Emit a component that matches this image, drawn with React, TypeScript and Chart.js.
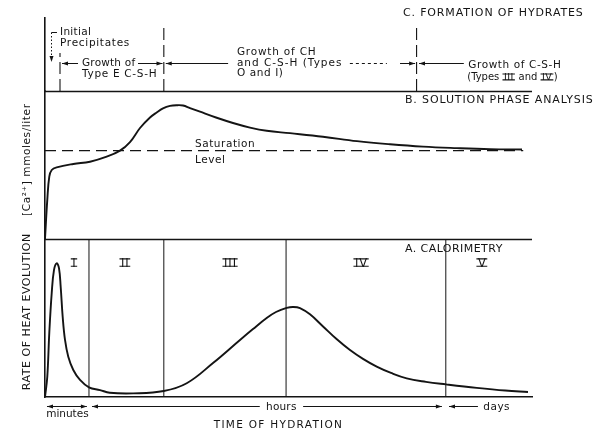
import { useEffect, useRef } from 'react';
import { Chart, registerables } from 'chart.js';

Chart.register(...registerables);

const INK = '#141414';
const FONT = '"DejaVu Sans"';

// Time of hydration on a relative 0–100 scale across the plot
// A. Calorimetry: rate of heat evolution (relative units)
const heatTime = [0, 0.47, 0.88, 1.38, 1.85, 2.4, 2.87, 3.22, 3.63, 4.11, 4.78, 5.81, 7.19, 9.03, 11.3, 13.3, 18.1, 24.4, 29.1, 34.5, 40.04, 42.71, 45.52, 47.43, 49.63, 50.92, 52.36, 54.41, 57.15, 59.75, 62.63, 65.3, 68.11, 71.05, 74.27, 78.23, 82.34, 88.65, 94.5, 99.18];
const heatRate = [0, 12.8, 40.5, 65.8, 80.4, 84.6, 81.6, 69.8, 50.8, 36.1, 25.5, 17.1, 10.8, 6.1, 4.4, 2.7, 2.3, 3.8, 8.7, 21.5, 36.1, 43.0, 50.0, 53.8, 56.4, 57.0, 56.3, 52.3, 44.5, 37.0, 29.7, 24.1, 19.2, 15.2, 11.8, 9.6, 8.0, 5.8, 4.1, 3.2];

// B. Solution phase: Ca2+ concentration (relative units)
const caTime = [0, 0.47, 0.88, 1.38, 2.4, 5.81, 9.24, 12.67, 15.4, 17.45, 19.51, 21.56, 22.94, 24.23, 25.67, 27.04, 28.34, 29.77, 31.83, 35.11, 38.6, 42.09, 45.52, 50.31, 57.08, 64.07, 70.84, 77.62, 84.6, 91.38, 97.95];
const caConc = [0, 26.4, 42.1, 46.6, 48.4, 50.7, 52.2, 55.6, 59.7, 65.5, 75.0, 82.1, 85.5, 88.2, 89.9, 90.4, 90.2, 88.5, 86.0, 82.1, 78.4, 75.3, 73.1, 71.5, 69.1, 66.1, 64.0, 62.4, 61.4, 60.7, 60.5];
const saturationLevel = 59.7;
const saturationEnd = 98.2;

// Calorimetric stages I–V and their boundaries
const stageBounds = [9.03, 24.4, 49.5, 82.3];
const stageNames = ['I', 'II', 'III', 'IV', 'V'];
const stageNameX = [5.95, 16.4, 38.0, 64.9, 89.7];

// C. Formation of hydrates: period boundaries and how high each dashed line reaches
const hydrateBounds = [3.08, 24.4, 76.3];
const hydrateBoundTops = [52, 87.7, 87.7];

type Axis = 'yA' | 'yB' | 'yC';
type Note = { text: string; x: number; y: number; axis: Axis; size: number; spacing: number; align?: CanvasTextAlign };
type Arrow = { x1: number; x2: number; y: number; axis: Axis; head: 'start' | 'end' | 'both' | 'none'; dash?: number[] };

const notes: Note[] = [
  { text: 'C. FORMATION OF HYDRATES', x: 73.5, y: 107, axis: 'yC', size: 11, spacing: 0.85 },
  { text: 'B. SOLUTION PHASE ANALYSIS', x: 73.9, y: 93.9, axis: 'yB', size: 11, spacing: 0.88 },
  { text: 'A. CALORIMETRY', x: 73.9, y: 93.7, axis: 'yA', size: 11, spacing: 0.45 },
  { text: 'Initial', x: 3.08, y: 80.8, axis: 'yC', size: 10.5, spacing: 0.3 },
  { text: 'Precipitates', x: 3.08, y: 65.8, axis: 'yC', size: 10.5, spacing: 0.7 },
  { text: 'Growth of', x: 7.6, y: 38.4, axis: 'yC', size: 10.5, spacing: 0.2 },
  { text: 'Type E C-S-H', x: 7.6, y: 23.3, axis: 'yC', size: 10.5, spacing: 0.7 },
  { text: 'Growth of CH', x: 39.4, y: 53.4, axis: 'yC', size: 10.5, spacing: 0.8 },
  { text: 'and C-S-H (Types', x: 39.4, y: 38.4, axis: 'yC', size: 10.5, spacing: 1.0 },
  { text: 'O and I)', x: 39.4, y: 24.7, axis: 'yC', size: 10.5, spacing: 0.6 },
  { text: 'Growth of C-S-H', x: 86.9, y: 35.6, axis: 'yC', size: 10.5, spacing: 0.6 },
  { text: 'Saturation', x: 30.8, y: 64.2, axis: 'yB', size: 10.5, spacing: 0.55 },
  { text: 'Level', x: 30.8, y: 53.4, axis: 'yB', size: 10.5, spacing: 0.55 },
  { text: 'minutes', x: 4.6, y: -10.8, axis: 'yA', size: 10.5, spacing: 0, align: 'center' },
  { text: 'hours', x: 48.5, y: -6.3, axis: 'yA', size: 10.5, spacing: 0.2, align: 'center' },
  { text: 'days', x: 92.7, y: -6.3, axis: 'yA', size: 10.5, spacing: 0.5, align: 'center' },
  { text: 'TIME OF HYDRATION', x: 47.8, y: -17.7, axis: 'yA', size: 10.5, spacing: 1.3, align: 'center' },
];

const arrows: Arrow[] = [
  { x1: 6.78, x2: 3.49, y: 38.4, axis: 'yC', head: 'end' },
  { x1: 19.1, x2: 24.13, y: 38.4, axis: 'yC', head: 'end' },
  { x1: 37.6, x2: 24.8, y: 38.4, axis: 'yC', head: 'end' },
  { x1: 62.6, x2: 70.2, y: 38.4, axis: 'yC', head: 'none', dash: [3, 3] },
  { x1: 72.9, x2: 76.0, y: 38.4, axis: 'yC', head: 'end' },
  { x1: 86.0, x2: 76.8, y: 38.4, axis: 'yC', head: 'end' },
  { x1: 0.41, x2: 8.6, y: -5.7, axis: 'yA', head: 'both' },
  { x1: 9.65, x2: 44.1, y: -5.7, axis: 'yA', head: 'start' },
  { x1: 53.0, x2: 81.5, y: -5.7, axis: 'yA', head: 'end' },
  { x1: 82.96, x2: 88.9, y: -5.7, axis: 'yA', head: 'start' },
];

function setFont(ctx: CanvasRenderingContext2D, size: number, spacing: number) {
  ctx.font = `${size}px ${FONT}`;
  (ctx as any).letterSpacing = `${spacing}px`;
}

function head(ctx: CanvasRenderingContext2D, x: number, y: number, dx: number, dy: number) {
  const len = 6;
  const half = 2;
  const px = -dy;
  const py = dx;
  ctx.beginPath();
  ctx.moveTo(x, y);
  ctx.lineTo(x - dx * len + px * half, y - dy * len + py * half);
  ctx.lineTo(x - dx * len - px * half, y - dy * len - py * half);
  ctx.closePath();
  ctx.fill();
}

// Roman numeral with bars above and below, returns its drawn width
function roman(ctx: CanvasRenderingContext2D, s: string, left: number, cy: number, size: number, spacing = 1) {
  setFont(ctx, size, spacing);
  ctx.textAlign = 'left';
  ctx.textBaseline = 'alphabetic';
  const w = ctx.measureText(s).width - spacing;
  const cap = size * 0.73;
  const base = cy + cap / 2;
  ctx.fillText(s, left + 1.5, base);
  ctx.lineWidth = 1.2;
  ctx.beginPath();
  ctx.moveTo(left, base - cap + 0.5);
  ctx.lineTo(left + w + 3, base - cap + 0.5);
  ctx.moveTo(left, base - 0.5);
  ctx.lineTo(left + w + 3, base - 0.5);
  ctx.stroke();
  return w + 3;
}

const annotate = {
  id: 'annotate',
  afterDatasetsDraw(chart: Chart) {
    const { ctx, chartArea, scales } = chart;
    const X = (v: number) => scales.x.getPixelForValue(v);
    const Y = (axis: Axis, v: number) => scales[axis].getPixelForValue(v);
    ctx.save();
    ctx.fillStyle = INK;
    ctx.strokeStyle = INK;

    // panel separators
    ctx.lineWidth = 1.5;
    ctx.beginPath();
    for (const axis of ['yB', 'yC'] as Axis[]) {
      const y = Math.round(Y(axis, 0)) + 0.5;
      ctx.moveTo(chartArea.left, y);
      ctx.lineTo(chartArea.right, y);
    }
    ctx.stroke();

    // text notes
    for (const n of notes) {
      setFont(ctx, n.size, n.spacing);
      ctx.textAlign = n.align ?? 'left';
      ctx.textBaseline = 'middle';
      const shift = n.align === 'center' ? n.spacing / 2 : 0;
      ctx.fillText(n.text, X(n.x) + shift, Y(n.axis, n.y));
    }

    // stage numerals
    stageNames.forEach((s, i) => {
      setFont(ctx, 11.5, 1);
      const w = ctx.measureText(s).width - 1 + 3;
      roman(ctx, s, X(stageNameX[i]) - w / 2, Y('yA', 85.1), 11.5);
    });

    // "(Types III and IV)"
    {
      const cy = Y('yC', 19.2);
      let x = X(86.7);
      const runs: (string | { r: string })[] = ['(Types ', { r: 'III' }, ' and ', { r: 'IV' }, ')'];
      for (const run of runs) {
        if (typeof run === 'string') {
          setFont(ctx, 10, 0);
          ctx.textAlign = 'left';
          ctx.textBaseline = 'middle';
          ctx.fillText(run, x, cy);
          x += ctx.measureText(run).width;
        } else {
          x += roman(ctx, run.r, x, cy, 9.5, 0.5) + 0.5;
        }
      }
    }

    // arrows
    ctx.lineWidth = 1;
    for (const a of arrows) {
      const y = Math.round(Y(a.axis, a.y)) + 0.5;
      const x1 = X(a.x1);
      const x2 = X(a.x2);
      ctx.setLineDash(a.dash ?? []);
      ctx.beginPath();
      ctx.moveTo(x1, y);
      ctx.lineTo(x2, y);
      ctx.stroke();
      ctx.setLineDash([]);
      const d = Math.sign(x2 - x1);
      if (a.head === 'end' || a.head === 'both') head(ctx, x2, y, d, 0);
      if (a.head === 'start' || a.head === 'both') head(ctx, x1, y, -d, 0);
    }

    // initial precipitates marker
    {
      const yTop = Math.round(Y('yC', 80.8)) + 0.5;
      const xv = Math.round(X(1.23)) + 0.5;
      ctx.beginPath();
      ctx.moveTo(X(2.46), yTop);
      ctx.lineTo(xv, yTop);
      ctx.stroke();
      ctx.setLineDash([1.5, 2]);
      ctx.beginPath();
      ctx.moveTo(xv, yTop);
      ctx.lineTo(xv, Y('yC', 45));
      ctx.stroke();
      ctx.setLineDash([]);
      head(ctx, xv, Y('yC', 39.7), 0, 1);
    }

    // axis titles
    const vertical = (s: string, x: number, y: number, size: number, spacing: number) => {
      ctx.save();
      ctx.translate(x, y);
      ctx.rotate(-Math.PI / 2);
      setFont(ctx, size, spacing);
      ctx.textAlign = 'center';
      ctx.textBaseline = 'alphabetic';
      ctx.fillText(s, spacing / 2, 0);
      ctx.restore();
    };
    vertical('RATE OF HEAT EVOLUTION', X(-2.98), Y('yA', 53.8), 11, 0.55);
    vertical('[Ca²⁺] mmoles/liter', X(-2.98), Y('yB', 53.4), 10.5, 0.6);

    ctx.restore();
  },
};

const toPoints = (xs: number[], ys: number[]) => xs.map((x, i) => ({ x, y: ys[i] }));

export default function App() {
  const ref = useRef<HTMLCanvasElement>(null);

  useEffect(() => {
    const canvas = ref.current;
    if (!canvas) return;

    const curve = { borderColor: INK, borderWidth: 1.9, pointRadius: 0, fill: false, tension: 0.4, borderJoinStyle: 'round' as const, xAxisID: 'x' };
    const rule = { borderColor: INK, borderWidth: 1, pointRadius: 0, fill: false, xAxisID: 'x' };

    const datasets: any[] = [
      { ...curve, data: toPoints(heatTime, heatRate), yAxisID: 'yA' },
      { ...curve, data: toPoints(caTime, caConc), yAxisID: 'yB' },
      { ...rule, borderWidth: 1.3, borderDash: [11, 6], data: [{ x: 0, y: saturationLevel }, { x: saturationEnd, y: saturationLevel }], yAxisID: 'yB' },
      ...stageBounds.map((x) => ({ ...rule, data: [{ x, y: 0 }, { x, y: 100 }], yAxisID: 'yA' })),
      ...hydrateBounds.map((x, i) => ({ ...rule, borderWidth: 1.1, borderDash: [12, 5], data: [{ x, y: 0 }, { x, y: hydrateBoundTops[i] }], yAxisID: 'yC' })),
    ];

    const panelAxis = (weight: number) => ({
      type: 'linear' as const,
      position: 'left' as const,
      stack: 'panels',
      stackWeight: weight,
      min: 0,
      max: 100,
      grid: { display: false, drawTicks: false },
      ticks: { display: false },
      border: { display: true, color: INK, width: 1.6 },
    });

    const chart = new Chart(canvas, {
      type: 'line',
      data: { datasets },
      options: {
        responsive: false,
        animation: false,
        events: [],
        layout: { padding: { left: 45, right: 64, top: 18, bottom: 38 } },
        plugins: { legend: { display: false }, tooltip: { enabled: false }, title: { display: false } },
        scales: {
          x: {
            type: 'linear',
            min: 0,
            max: 100,
            grid: { display: false, drawTicks: false },
            ticks: { display: false },
            border: { display: true, color: INK, width: 1.6 },
          },
          yA: panelAxis(158),
          yB: panelAxis(148),
          yC: panelAxis(73),
        },
      } as any,
      plugins: [annotate],
    });

    return () => chart.destroy();
  }, []);

  return (
    <div style={{ position: 'fixed', left: 0, top: 0, width: 596, height: 435, background: '#fff' }}>
      <canvas ref={ref} width={596} height={435} style={{ display: 'block' }} />
    </div>
  );
}
